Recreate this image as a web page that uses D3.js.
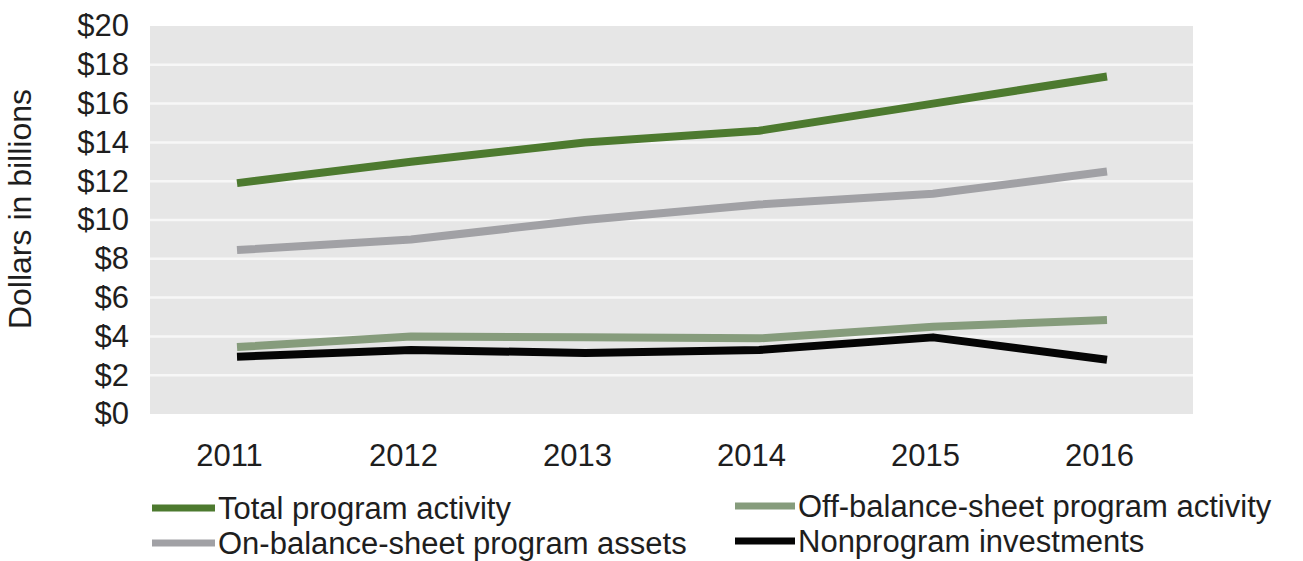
<!DOCTYPE html>
<html>
<head>
<meta charset="utf-8">
<script src="https://cdn.jsdelivr.net/npm/d3@7"></script>
<style>
  html, body { margin: 0; padding: 0; background: #fff; overflow: hidden; }
  svg { display: block; font-family: "Liberation Sans", Arial, sans-serif; }
</style>
</head>
<body>
<svg id="chart" width="1303" height="561"></svg>
<script>
// Program activity, in billions of dollars
const years = ["2011", "2012", "2013", "2014", "2015", "2016"];
const totalProgram = [11.9, 13.0, 14.0, 14.6, 16.0, 17.4];
const onBalance = [8.45, 9.0, 10.0, 10.8, 11.35, 12.5];
const offBalance = [3.45, 4.0, 3.95, 3.9, 4.5, 4.85];
const nonprogram = [2.95, 3.3, 3.15, 3.3, 3.95, 2.8];
const yTicks = [0, 2, 4, 6, 8, 10, 12, 14, 16, 18, 20];

const series = [
  { name: "Total program activity", values: totalProgram, color: "#4d7a2f" },
  { name: "On-balance-sheet program assets", values: onBalance, color: "#a1a1a5" },
  { name: "Off-balance-sheet program activity", values: offBalance, color: "#869c7c" },
  { name: "Nonprogram investments", values: nonprogram, color: "#050505" }
];

const FONT = "'Liberation Sans', Arial, sans-serif";
const TEXT = "#1e1e1e";

const svg = d3.select("#chart");
const plot = { left: 150, right: 1193, top: 26, bottom: 414 };

const x = d3.scalePoint().domain(years).range([237, 1107]);
const y = d3.scaleLinear().domain([0, 20]).range([plot.bottom, plot.top]);

// plot background
svg.append("rect")
  .attr("x", plot.left).attr("y", plot.top)
  .attr("width", plot.right - plot.left).attr("height", plot.bottom - plot.top)
  .attr("fill", "#e6e6e6");

// horizontal gridlines
svg.append("g")
  .selectAll("line")
  .data(yTicks.filter(d => d > 0 && d < 20))
  .join("line")
  .attr("x1", plot.left).attr("x2", plot.right)
  .attr("y1", d => y(d)).attr("y2", d => y(d))
  .attr("stroke", "#f7f7f7").attr("stroke-width", 2.5);

// y axis labels
const yAxis = d3.axisLeft(y).tickValues(yTicks).tickFormat(d => "$" + d).tickSize(0).tickPadding(0);
const gy = svg.append("g").attr("transform", "translate(129,0)").call(yAxis);
gy.select(".domain").remove();
gy.selectAll("text")
  .attr("font-size", 31).attr("fill", TEXT)
  .attr("font-family", FONT);

// x axis labels
const xAxis = d3.axisBottom(x).tickSize(0).tickPadding(0);
const gx = svg.append("g").attr("transform", "translate(-8,444)").call(xAxis);
gx.select(".domain").remove();
gx.selectAll("text")
  .attr("font-size", 31).attr("fill", TEXT)
  .attr("font-family", FONT);

// y axis title
svg.append("text")
  .attr("transform", "translate(31,209) rotate(-90)")
  .attr("text-anchor", "middle")
  .attr("font-size", 32).attr("fill", TEXT)
  .text("Dollars in billions");

// series lines
const line = d3.line()
  .x((d, i) => x(years[i]))
  .y(d => y(d));

svg.append("g")
  .selectAll("path")
  .data(series.slice().reverse())
  .join("path")
  .attr("d", d => line(d.values))
  .attr("fill", "none")
  .attr("stroke", d => d.color)
  .attr("stroke-width", 8)
  .attr("stroke-linejoin", "round");

// legend
const legendPos = [
  { sx: 152, sw: 63, ty: 508 },
  { sx: 152, sw: 63, ty: 543 },
  { sx: 735, sw: 60, ty: 506 },
  { sx: 735, sw: 60, ty: 541 }
];
const lg = svg.append("g")
  .selectAll("g")
  .data(series)
  .join("g")
  .attr("transform", (d, i) => `translate(${legendPos[i].sx},${legendPos[i].ty})`);
lg.append("line")
  .attr("x1", 0).attr("x2", (d, i) => legendPos[i].sw)
  .attr("y1", 0).attr("y2", 0)
  .attr("stroke", d => d.color).attr("stroke-width", 7);
lg.append("text")
  .attr("x", (d, i) => legendPos[i].sw + 3).attr("y", 0)
  .attr("dy", "0.35em")
  .attr("font-size", 31).attr("fill", TEXT)
  .text(d => d.name);
</script>
</body>
</html>
